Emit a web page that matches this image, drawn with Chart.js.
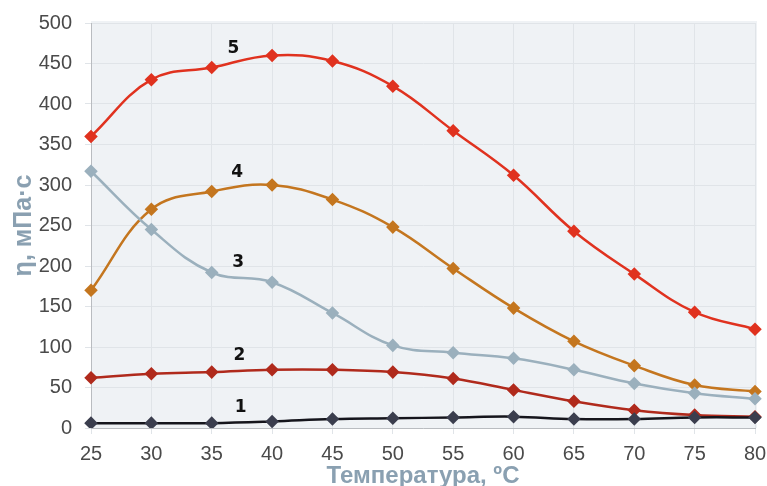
<!DOCTYPE html>
<html>
<head>
<meta charset="utf-8">
<script src="https://cdn.jsdelivr.net/npm/chart.js@4"></script>
<style>
  html, body { margin: 0; padding: 0; background: #fff; }
  #wrap { width: 767px; height: 486px; }
</style>
</head>
<body>
<div id="wrap"><canvas id="viscChart" width="767" height="486"></canvas></div>
<script>
// Temperatures (x categories)
const temps = ['25', '30', '35', '40', '45', '50', '55', '60', '65', '70', '75', '80'];
// Viscosity, mPa·s, curves 1..5
const curve1 = [6, 6, 6, 8, 11, 12, 13, 14, 11, 11, 13, 13];
const curve2 = [62, 67, 69, 72, 72, 69, 61, 47, 33, 22, 16, 14];
const curve3 = [317, 245, 192, 180, 142, 102, 93, 86, 72, 55, 43, 36];
const curve4 = [170, 270, 292, 300, 282, 248, 197, 148, 107, 77, 53, 45];
const curve5 = [360, 430, 445, 460, 453, 422, 367, 312, 243, 190, 143, 122];
// Curve number labels: [text, x value (temperature), y value]
const curveLabels = [['5', 36.8, 469], ['4', 37.1, 315], ['3', 37.2, 204], ['2', 37.3, 90], ['1', 37.4, 25]];

const plotBg = {
    id: 'plotBg',
    beforeDraw(chart) {
        const { ctx, chartArea: a } = chart;
        ctx.save();
        ctx.fillStyle = '#eff2f5';
        ctx.fillRect(a.left, a.top - 2, a.right - a.left + 2, a.bottom - a.top + 2);
        ctx.restore();
    }
};

const numberLabels = {
    id: 'numberLabels',
    afterDatasetsDraw(chart) {
        const { ctx, scales } = chart;
        const x = scales.x, y = scales.y;
        ctx.save();
        ctx.font = 'bold 17px "DejaVu Sans", sans-serif';
        ctx.fillStyle = '#111';
        ctx.textAlign = 'center';
        ctx.textBaseline = 'middle';
        curveLabels.forEach(([t, tv, v]) => {
            // category index from temperature
            const idx = (tv - 25) / 5;
            const px = x.getPixelForValue(0) + idx * (x.getPixelForValue(1) - x.getPixelForValue(0));
            ctx.fillText(t, px, y.getPixelForValue(v));
        });
        ctx.restore();
    }
};

function ds(label, data, line, point) {
    return {
        label: label,
        data: data,
        borderColor: line,
        backgroundColor: point,
        pointBackgroundColor: point,
        pointBorderColor: point,
        pointStyle: 'rectRot',
        pointRadius: 5,
        borderWidth: 2.5,
        tension: 0.4,
        fill: false
    };
}

const tickFont = { family: '"Liberation Sans", Arial, sans-serif', size: 20 };
const titleFont = { family: '"Liberation Sans", Arial, sans-serif', size: 24, weight: 'bold' };

new Chart(document.getElementById('viscChart'), {
    type: 'line',
    data: {
        labels: temps,
        datasets: [
            ds('1', curve1, '#15151c', '#3b3e4e'),
            ds('2', curve2, '#b02a1c', '#b02a1c'),
            ds('3', curve3, '#9bb0bd', '#9bb0bd'),
            ds('4', curve4, '#c4761f', '#c4761f'),
            ds('5', curve5, '#e0321f', '#e0321f')
        ]
    },
    options: {
        responsive: false,
        animation: false,
        layout: { padding: { top: 23, right: 12, bottom: 0, left: 9 } },
        plugins: {
            legend: { display: false },
            tooltip: { enabled: false }
        },
        scales: {
            x: {
                offset: false,
                grid: { color: '#e0e4e8', tickLength: 6, drawTicks: true },
                border: { color: '#b9bcc0' },
                ticks: {
                    color: '#4a4a4a',
                    font: tickFont,
                    padding: 8,
                    maxRotation: 0
                },
                title: {
                    display: true,
                    text: 'Температура, ºС',
                    color: '#8aa0b1',
                    font: titleFont,
                    padding: { top: 0, bottom: -5 }
                },
                afterFit(scale) {
                    scale.height = 58;
                    scale.paddingLeft = 0;
                    scale.paddingRight = 0;
                }
            },
            y: {
                min: 0,
                max: 500,
                ticks: {
                    stepSize: 50,
                    color: '#4a4a4a',
                    font: tickFont,
                    padding: 13
                },
                grid: { color: '#e0e4e8', tickLength: 6 },
                border: { color: '#b9bcc0' },
                title: {
                    display: true,
                    text: 'η, мПа·с',
                    color: '#8aa0b1',
                    font: { family: '"Liberation Sans", Arial, sans-serif', size: 25, weight: 'bold' },
                    padding: { top: 0, bottom: 0 }
                },
                afterFit(scale) {
                    scale.width = 82;
                    scale.paddingTop = 0;
                    scale.paddingBottom = 0;
                }
            }
        }
    },
    plugins: [plotBg, numberLabels]
});
</script>
</body>
</html>
